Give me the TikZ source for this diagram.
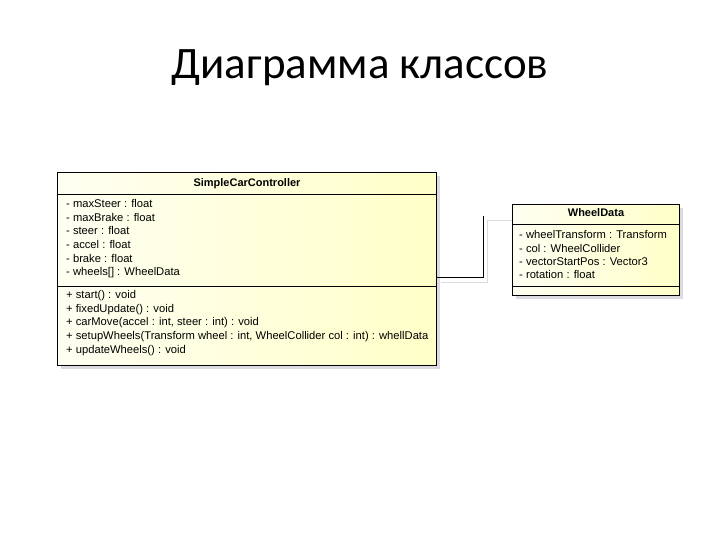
\documentclass[tikz,border=0pt]{standalone}
\usepackage{fontspec}
\setmainfont{Liberation Sans}
\newfontfamily\titlefont{Carlito}
\usetikzlibrary{positioning}
\definecolor{boxlight}{RGB}{255,255,242}
\definecolor{boxyellow}{RGB}{255,255,200}
\definecolor{shadowgray}{RGB}{218,218,224}
\tikzset{
  classbox/.style={draw=black, line width=1.2pt, anchor=north west, inner sep=0pt,
    left color=boxlight, right color=boxyellow},
  shadowbox/.style={fill=shadowgray, draw=none, anchor=north west, inner sep=0pt},
  divider/.style={draw=black, line width=0.8pt},
  member/.style={anchor=west, inner sep=0pt, text height=8pt, text depth=2.5pt,
    font=\fontsize{11.2}{13}\selectfont},
  header/.style={inner sep=0pt, text height=8pt, text depth=2.5pt,
    font=\fontsize{11}{13}\selectfont\bfseries},
  conn/.style={draw=black, line width=0.9pt},
  ghost/.style={draw=shadowgray, line width=1pt}
}
\begin{document}
\begin{tikzpicture}[x=1pt, y=-1pt]
\useasboundingbox (0,0) rectangle (720,540);
\fill[white] (0,0) rectangle (720,540);

% title
\node[font=\titlefont\fontsize{45}{50}\selectfont, inner sep=0pt] (title) at (360,68) {Диаграмма классов};

% connector shadow
\coordinate (g1) at (487,221);
\coordinate (g2) at (487,282);
\coordinate (g3) at (441,282);
\draw[ghost] (g3) -- (g2) -- (g1) -- (512,221);

% SimpleCarController
\node[shadowbox, minimum width=379pt, minimum height=193pt] (sccsh) at (61,176) {};
\node[classbox, minimum width=379pt, minimum height=193pt] (scc) at (57,172) {};
\coordinate (sccd1) at (57,194);
\coordinate (sccd2) at (57,286);
\draw[divider] (sccd1) -- (sccd1 -| scc.east);
\draw[divider] (sccd2) -- (sccd2 -| scc.east);
\node[header] (scct) at (247,184) {SimpleCarController};
\node[member] (a1) at (66,205) {- maxSteer : float};
\node[member] (a2) at (66,218.6) {- maxBrake : float};
\node[member] (a3) at (66,232.2) {- steer : float};
\node[member] (a4) at (66,245.8) {- accel : float};
\node[member] (a5) at (66,259.4) {- brake : float};
\node[member] (a6) at (66,273) {- wheels[] : WheelData};
\node[member] (m1) at (66,296) {+ start() : void};
\node[member] (m2) at (66,309.6) {+ fixedUpdate() : void};
\node[member] (m3) at (66,323.2) {+ carMove(accel : int, steer : int) : void};
\node[member] (m4) at (66,336.8) {+ setupWheels(Transform wheel : int, WheelCollider col : int) : whellData};
\node[member] (m5) at (66,350.4) {+ updateWheels() : void};

% WheelData
\node[shadowbox, minimum width=167pt, minimum height=91pt] (wdsh) at (516,208) {};
\node[classbox, minimum width=167pt, minimum height=91pt] (wd) at (512,204) {};
\coordinate (wdd1) at (512,224);
\coordinate (wdd2) at (512,286);
\draw[divider] (wdd1) -- (wdd1 -| wd.east);
\draw[divider] (wdd2) -- (wdd2 -| wd.east);
\node[header] (wdt) at (596,214) {WheelData};
\node[member] (b1) at (519,236) {- wheelTransform : Transform};
\node[member] (b2) at (519,249.3) {- col : WheelCollider};
\node[member] (b3) at (519,262.6) {- vectorStartPos : Vector3};
\node[member] (b4) at (519,275.9) {- rotation : float};

% connector
\coordinate (cj) at (483,277);
\coordinate (ce) at (483,216);
\draw[conn] (scc.east |- cj) -- (cj) -- (ce);
\end{tikzpicture}
\end{document}
